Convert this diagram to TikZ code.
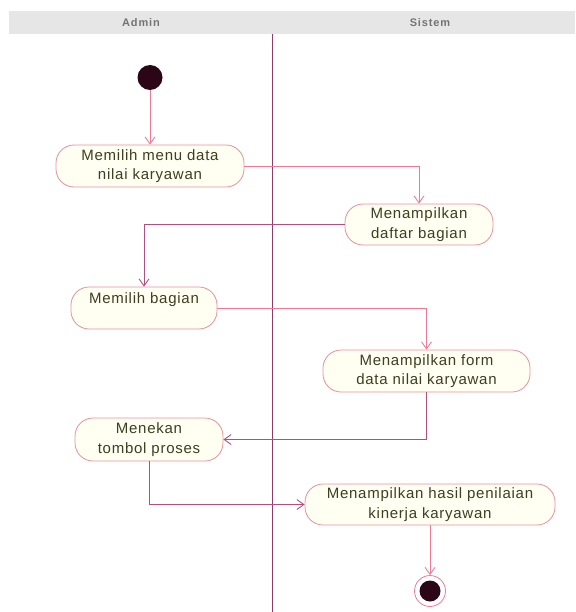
\documentclass[tikz,border=0pt]{standalone}
\usepackage{fontspec}
\setmainfont{Liberation Sans}
\newfontfamily\lblfont[LetterSpace=5]{Liberation Sans}
\newfontfamily\hdrfont[LetterSpace=8]{Liberation Sans}
\usetikzlibrary{arrows.meta}
\definecolor{nodeborder}{HTML}{E8909C}
\definecolor{nodefill}{HTML}{FFFFF2}
\definecolor{edgepink}{HTML}{EE7A98}
\definecolor{edgepurple}{HTML}{B0507E}
\definecolor{lane}{HTML}{8E3E66}
\definecolor{txt}{HTML}{3E3E22}
\definecolor{hdrtxt}{HTML}{747474}
\definecolor{hdrfill}{HTML}{E6E6E6}
\definecolor{dot}{HTML}{2A0616}
\begin{document}
\begin{tikzpicture}[x=1pt,y=-1pt,
  action/.style={draw=nodeborder, fill=nodefill, line width=0.8pt, rounded corners=18pt,
    inner sep=0pt, align=center, text=txt, font=\lblfont\fontsize{15}{19.5}\selectfont},
  flow/.style={draw=edgepink, line width=0.9pt, -{Straight Barb[length=7pt,width=10pt]}},
  flowdark/.style={flow, draw=edgepurple},
  hdr/.style={text=hdrtxt, font=\hdrfont\bfseries\fontsize{11}{13}\selectfont, inner sep=0pt},
  startdot/.style={circle, fill=dot, minimum size=25pt, inner sep=0pt},
  enddot/.style={circle, draw=edgepink, fill=white, line width=0.8pt, minimum size=31pt, inner sep=0pt}
]
\useasboundingbox (0,0) rectangle (575,612);
% header
\fill[hdrfill] (9,11) rectangle (575,34);
\node[hdr] (hA) at (141,22.5) {Admin};
\node[hdr] (hS) at (430,22.5) {Sistem};
% swimlane divider
\coordinate (lt) at (272,34);
\coordinate (lb) at (272,612);
\draw[lane, line width=1pt] (lt) -- (lb);
% nodes
\node[startdot] (start) at (150,77.5) {};
\node[action, minimum width=188pt, minimum height=42pt] (n1) at (150,166) {Memilih menu data\\nilai karyawan};
\node[action, minimum width=148pt, minimum height=41pt] (n2) at (419,224.5) {Menampilkan\\daftar bagian};
\node[action, minimum width=146pt, minimum height=42pt] (n3) at (144,308) {Memilih bagian\\\phantom{M}};
\node[action, minimum width=207pt, minimum height=42pt] (n4) at (426.5,371) {Menampilkan form\\data nilai karyawan};
\node[action, minimum width=148pt, minimum height=43pt] (n5) at (149,439.5) {Menekan\\tombol proses};
\node[action, minimum width=250pt, minimum height=41pt] (n6) at (430,504.5) {Menampilkan hasil penilaian\\kinerja karyawan};
\node[enddot] (end) at (430,591) {};
\fill[dot] (end) circle (10.5pt);
% connectors
\draw[flow] (start) -- (start |- n1.north);
\draw[flow] (n1.east) -| (n2.north);
\draw[flowdark] (n2.west) -| (n3.north);
\draw[flow] (n3.east) -| (n4.north);
\draw[flowdark] (n4.south) |- (n5.east);
\draw[flowdark] (n5.south) |- (n6.west);
\draw[flow] (n6.south) -- (end.north);
\end{tikzpicture}
\end{document}
